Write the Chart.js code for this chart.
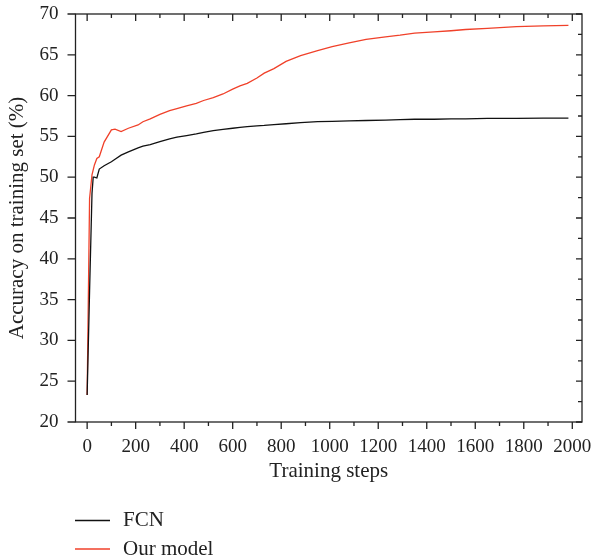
<!DOCTYPE html>
<html>
<head>
<meta charset="utf-8">
<script src="https://cdn.jsdelivr.net/npm/chart.js@4"></script>
<style>
  html, body { margin: 0; padding: 0; background: #fff; }
  #wrap { width: 591px; height: 560px; }
</style>
</head>
<body>
<div id="wrap"><canvas id="acc_chart" width="591" height="560"></canvas></div>
<script>
// training steps (x) shared by both curves
const steps = [0, 10, 20, 25, 30, 40, 50, 70, 100, 115, 140, 170, 210, 230, 260, 300, 340, 370, 410, 450,
  480, 520, 560, 600, 630, 660, 700, 730, 770, 820, 880, 950, 1010, 1080, 1150, 1230, 1290, 1350, 1430,
  1500, 1560, 1650, 1770, 1880, 1984];

const fcn_acc = [23.3, 36, 48.0, 50.0, 50.0, 49.9, 51.0, 51.4, 51.9, 52.2, 52.7, 53.1, 53.6, 53.8, 54.0, 54.35,
  54.7, 54.9, 55.1, 55.3, 55.5, 55.7, 55.85, 56.0, 56.1, 56.2, 56.3, 56.35, 56.45, 56.55, 56.7, 56.8, 56.85,
  56.9, 56.95, 57.0, 57.05, 57.1, 57.1, 57.15, 57.15, 57.2, 57.2, 57.25, 57.25];

const our_acc = [23.3, 47.4, 50.3, 50.9, 51.5, 52.3, 52.5, 54.3, 55.8, 55.9, 55.6, 56.0, 56.4, 56.8, 57.15, 57.7,
  58.15, 58.4, 58.75, 59.05, 59.4, 59.75, 60.2, 60.8, 61.2, 61.5, 62.15, 62.75, 63.3, 64.2, 64.9, 65.5, 66.0,
  66.45, 66.9, 67.2, 67.4, 67.65, 67.8, 67.95, 68.1, 68.25, 68.45, 68.55, 68.6];

const x_ticks = [0, 200, 400, 600, 800, 1000, 1200, 1400, 1600, 1800, 2000];
const y_ticks = [20, 25, 30, 35, 40, 45, 50, 55, 60, 65, 70];

const series_labels = ['FCN', 'Our model'];
const series_colors = ['#111111', '#f0412a'];

const FONT = "'Liberation Serif', 'DejaVu Serif', serif";
const INK = '#222';

// frame + tick marks (outward on left/bottom, inward on top/right) + legend below
const frame_plugin = {
  id: 'frame_plugin',
  afterDraw(chart) {
    const { ctx, chartArea: a, scales: { x, y } } = chart;
    ctx.save();
    ctx.strokeStyle = INK;
    ctx.lineWidth = 1.3;
    ctx.strokeRect(a.left, a.top, a.right - a.left, a.bottom - a.top);

    ctx.beginPath();
    for (let v = 0; v <= 2000; v += 100) {
      const px = x.getPixelForValue(v);
      const len = v % 200 === 0 ? 7 : 4;
      ctx.moveTo(px, a.bottom); ctx.lineTo(px, a.bottom + len);
      ctx.moveTo(px, a.top); ctx.lineTo(px, a.top + len);
    }
    y_ticks.forEach(v => {
      const py = y.getPixelForValue(v);
      ctx.moveTo(a.left, py); ctx.lineTo(a.left - 8, py);
    });
    for (let v = 20; v <= 70; v += 2.5) {
      const py = y.getPixelForValue(v);
      const len = v % 5 === 0 ? 6 : 4;
      ctx.moveTo(a.right, py); ctx.lineTo(a.right - len, py);
    }
    ctx.stroke();

    // legend
    ctx.font = '21px ' + FONT;
    ctx.textBaseline = 'alphabetic';
    ctx.textAlign = 'left';
    chart.data.datasets.forEach((ds, i) => {
      const ly = 520.5 + i * 28.5;
      ctx.strokeStyle = ds.borderColor;
      ctx.lineWidth = 1.4;
      ctx.beginPath();
      ctx.moveTo(75, ly); ctx.lineTo(110, ly);
      ctx.stroke();
      ctx.fillStyle = INK;
      ctx.fillText(ds.label, 123, ly + 5.5);
    });
    ctx.restore();
  }
};

const ctx = document.getElementById('acc_chart').getContext('2d');

const acc_chart = new Chart(ctx, {
  type: 'line',
  data: {
    datasets: [
      {
        label: series_labels[0],
        data: steps.map((s, i) => ({ x: s, y: fcn_acc[i] })),
        borderColor: series_colors[0],
        borderWidth: 1.3,
        pointRadius: 0,
        tension: 0
      },
      {
        label: series_labels[1],
        data: steps.map((s, i) => ({ x: s, y: our_acc[i] })),
        borderColor: series_colors[1],
        borderWidth: 1.3,
        pointRadius: 0,
        tension: 0
      }]
  },
  options: {
    responsive: false,
    animation: false,
    layout: { padding: { left: 0, top: 14, right: 9, bottom: 68 } },
    plugins: {
      legend: { display: false },
      tooltip: { enabled: false }
    },
    scales: {
      x: {
        type: 'linear',
        min: -48,
        max: 2040,
        afterBuildTicks: s => { s.ticks = x_ticks.map(v => ({ value: v })); },
        afterFit: s => { s.height = 70; s.paddingLeft = 0; s.paddingRight = 0; },
        grid: { display: false, drawTicks: true, tickLength: 8 },
        border: { display: false },
        ticks: {
          padding: 6, color: INK, font: { family: FONT, size: 19 }, maxRotation: 0, autoSkip: false,
          callback: v => String(v)
        },
        title: {
          display: true,
          text: 'Training steps',
          color: INK,
          font: { family: FONT, size: 21 },
          padding: { top: 0, bottom: 8 }
        }
      },
      y: {
        min: 20,
        max: 70,
        afterBuildTicks: s => { s.ticks = y_ticks.map(v => ({ value: v })); },
        afterFit: s => { s.width = 75.5; s.paddingTop = 0; s.paddingBottom = 0; },
        grid: { display: false, drawTicks: true, tickLength: 8 },
        border: { display: false },
        ticks: { padding: 9, color: INK, font: { family: FONT, size: 19 }, callback: v => String(v) },
        title: {
          display: true,
          text: 'Accuracy on training set (%)',
          color: INK,
          font: { family: FONT, size: 21 },
          padding: { top: 5, bottom: 0 }
        }
      }
    }
  },
  plugins: [frame_plugin]
});
</script>
</body>
</html>
